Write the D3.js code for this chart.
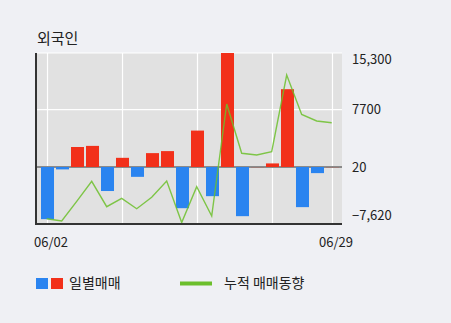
<!DOCTYPE html>
<html>
<head>
<meta charset="utf-8">
<script src="https://cdn.jsdelivr.net/npm/d3@7"></script>
<style>
  html, body { margin: 0; padding: 0; background: #eff0f4; }
  svg { display: block; font-family: "Noto Sans CJK KR", "Noto Sans", sans-serif; }
</style>
</head>
<body>
<svg id="chart" width="451" height="323"></svg>
<script>
// trading days, daily net buying and cumulative trend
const dates = ["06/02","06/03","06/04","06/05","06/08","06/09","06/10","06/11","06/12","06/15",
               "06/16","06/17","06/18","06/19","06/22","06/23","06/24","06/25","06/26","06/29"];
const daily = [-6970, -300, 2700, 2850, -3200, 1250, -1300, 1880, 2150, -5500,
               4900, -3890, 15300, -6570, 0, 500, 10450, -5360, -800, 0];
const cumul = [-6910, -7220, -4580, -1900, -5300, -4180, -5570, -4040, -1860, -7420,
               -2620, -6550, 8460, 1860, 1630, 2070, 12350, 7060, 6190, 5960];
const yTicks = [15300, 7700, 20, -7620];
const xTicks = ["06/02", "06/29"];
const gridDates = ["06/02", "06/09", "06/16", "06/23", "06/29"];

const svg = d3.select("#chart");
const plotL = 37, plotR = 342, plotT = 53, plotB = 224;

const x = d3.scaleBand().domain(dates).range([40, 340]).paddingInner(0.133).paddingOuter(0.067);
const y = d3.scaleLinear().domain([-7620, 15300]).range([plotB, plotT]);
const cx = d => x(d) + x.bandwidth() / 2;

// title
svg.append("text").attr("x", 37).attr("y", 44)
    .attr("font-size", 15).attr("fill", "#222").text("외국인");

// plot background
svg.append("rect").attr("x", plotL).attr("y", plotT)
    .attr("width", plotR - plotL).attr("height", plotB - plotT).attr("fill", "#e1e1e1");

// grid
svg.append("g").selectAll("line").data(gridDates).join("line")
    .attr("x1", d => cx(d)).attr("x2", d => cx(d))
    .attr("y1", plotT).attr("y2", plotB)
    .attr("stroke", "#fff").attr("stroke-width", 1.2);
svg.append("g").selectAll("line").data([15300, 7700]).join("line")
    .attr("x1", plotL).attr("x2", plotR)
    .attr("y1", d => y(d)).attr("y2", d => y(d))
    .attr("stroke", "#fff").attr("stroke-width", 1.2);

// baseline
svg.append("line").attr("x1", plotL).attr("x2", plotR)
    .attr("y1", y(20)).attr("y2", y(20))
    .attr("stroke", "#8a8a8a").attr("stroke-width", 2);

// bars
svg.append("g").selectAll("rect").data(dates).join("rect")
    .attr("x", d => x(d))
    .attr("width", x.bandwidth())
    .attr("y", (d, i) => Math.min(y(daily[i]), y(20)))
    .attr("height", (d, i) => Math.abs(y(daily[i]) - y(20)))
    .attr("fill", (d, i) => daily[i] >= 0 ? "#f2301a" : "#2a84f0");

// cumulative line
const line = d3.line().x(d => cx(d) - 0.8).y((d, i) => y(cumul[i]));
svg.append("path").datum(dates)
    .attr("d", line)
    .attr("fill", "none")
    .attr("stroke", "#6cbf2c")
    .attr("stroke-opacity", 0.85)
    .attr("stroke-width", 1.4);

// axes frame
svg.append("line").attr("x1", 36).attr("x2", 36).attr("y1", plotT).attr("y2", plotB + 1)
    .attr("stroke", "#333").attr("stroke-width", 2);
svg.append("line").attr("x1", 35).attr("x2", plotR).attr("y1", plotB).attr("y2", plotB)
    .attr("stroke", "#333").attr("stroke-width", 2);

// y labels
svg.append("g").selectAll("text").data(yTicks).join("text")
    .attr("x", 352)
    .attr("y", d => Math.min(Math.max(y(d), 59), 215))
    .attr("dy", "0.35em")
    .attr("font-size", 13).attr("fill", "#222")
    .text(d => d === 7700 || d === 20 ? String(d) : d3.format(",")(d));

// x labels
svg.append("g").selectAll("text").data(xTicks).join("text")
    .attr("x", (d, i) => i === 0 ? 51 : 336)
    .attr("y", 242).attr("dy", "0.35em")
    .attr("text-anchor", "middle")
    .attr("font-size", 13).attr("fill", "#222")
    .text(d => d);

// legend
const lg = svg.append("g");
lg.append("rect").attr("x", 36).attr("y", 278).attr("width", 12).attr("height", 11).attr("fill", "#2a84f0");
lg.append("rect").attr("x", 51).attr("y", 278).attr("width", 12).attr("height", 11).attr("fill", "#f2301a");
lg.append("text").attr("x", 69).attr("y", 283.5).attr("dy", "0.35em")
    .attr("font-size", 14).attr("fill", "#222").text("일별매매");
lg.append("line").attr("x1", 180).attr("x2", 212).attr("y1", 283.5).attr("y2", 283.5)
    .attr("stroke", "#6cbf2c").attr("stroke-width", 4);
lg.append("text").attr("x", 224).attr("y", 283.5).attr("dy", "0.35em")
    .attr("font-size", 14).attr("fill", "#222").text("누적 매매동향");
</script>
</body>
</html>
